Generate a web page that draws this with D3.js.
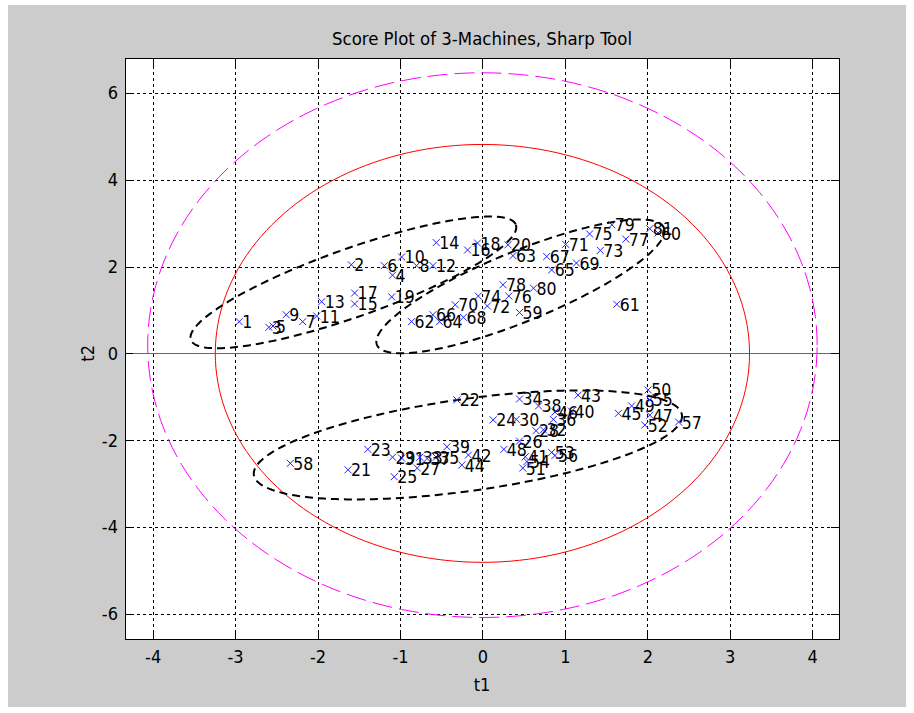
<!DOCTYPE html>
<html>
<head>
<meta charset="utf-8">
<script src="https://cdn.jsdelivr.net/npm/d3@7/dist/d3.min.js"></script>
<style>
  html, body { margin: 0; padding: 0; background: #ffffff; }
  text { font-family: "Liberation Sans Narrow", "Arial Narrow", "DejaVu Sans Condensed", sans-serif; }
</style>
</head>
<body>
<div id="chart"></div>
<script>
// point labels and scores (t1, t2)
const pointLabels = ["1","2","3","4","5","6","7","8","9","10","11","12","13","14","15","16","17","18","19","20",
  "21","22","23","24","25","26","27","28","29","30","31","32","33","34","35","36","37","38","39","40",
  "41","42","43","44","45","46","47","48","49","50","51","52","53","54","55","56","57","58","59","60",
  "61","62","63","64","65","66","67","68","69","70","71","72","73","74","75","76","77","78","79","80","81"];

const t1Values = [-2.95, -1.59, -2.59, -1.09, -2.54, -1.19, -2.18, -0.80, -2.38, -0.98,
  -2.01, -0.60, -1.95, -0.56, -1.55, -0.18, -1.55, -0.06, -1.10, 0.31,
  -1.63, -0.31, -1.39, 0.13, -1.07, 0.45, -0.79, 0.65, -1.09, 0.41,
  -0.98, 0.74, -0.76, 0.45, -0.56, 0.86, -0.67, 0.68, -0.43, 1.08,
  0.52, -0.17, 1.16, -0.25, 1.65, 0.88, 2.03, 0.26, 1.81, 2.01,
  0.49, 1.97, 0.84, 0.54, 2.03, 0.88, 2.38, -2.33, 0.45, 2.13,
  1.63, -0.86, 0.37, -0.52, 0.84, -0.60, 0.78, -0.23, 1.14, -0.33,
  1.01, 0.06, 1.43, -0.05, 1.30, 0.32, 1.74, 0.25, 1.57, 0.62, 2.03];

const t2Values = [0.73, 2.04, 0.60, 1.80, 0.63, 2.02, 0.73, 2.02, 0.89, 2.22,
  0.86, 2.02, 1.19, 2.55, 1.14, 2.38, 1.39, 2.54, 1.30, 2.50,
  -2.68, -1.07, -2.21, -1.53, -2.84, -2.02, -2.64, -1.78, -2.39, -1.52,
  -2.41, -1.76, -2.39, -1.05, -2.39, -1.52, -2.42, -1.21, -2.15, -1.33,
  -2.38, -2.34, -0.96, -2.57, -1.38, -1.35, -1.42, -2.21, -1.21, -0.84,
  -2.64, -1.65, -2.28, -2.49, -1.07, -2.35, -1.58, -2.53, 0.94, 2.77,
  1.13, 0.73, 2.25, 0.73, 1.92, 0.89, 2.23, 0.83, 2.08, 1.12,
  2.51, 1.09, 2.37, 1.32, 2.75, 1.32, 2.63, 1.58, 2.96, 1.50, 2.87];

// axis ticks
const xTicks = [-4, -3, -2, -1, 0, 1, 2, 3, 4];
const yTicks = [-6, -4, -2, 0, 2, 4, 6];
const xDomain = [-4.335, 4.325];
const yDomain = [-6.575, 6.80];

// cluster ellipses: centre, first half-axis, second half-axis (t1, t2 units)
const clusterCenters = [[-1.565, 1.635], [0.461, 1.543], [-0.176, -2.107]];
const clusterAxisA = [[1.971, 1.324], [1.740, 1.347], [2.596, 0.691]];
const clusterAxisB = [[0.138, -0.739], [0.160, -0.746], [0.078, -1.048]];

// confidence limits: centre and radii
const innerLimit = { cx: 0, cy: 0, rx: 3.24, ry: 4.81 };
const outerLimit = { cx: 0, cy: 0.19, rx: 4.06, ry: 6.27 };

const points = pointLabels.map((label, i) => ({ label, t1: t1Values[i], t2: t2Values[i] }));

const width = 914;
const height = 713;
const margin = { top: 58, right: 75, bottom: 74, left: 125 };
const innerWidth = width - margin.left - margin.right;
const innerHeight = height - margin.top - margin.bottom;
const fontStack = "\"Liberation Sans Narrow\", \"Arial Narrow\", \"DejaVu Sans Condensed\", sans-serif";

const svg = d3.select("#chart").append("svg")
  .attr("width", width)
  .attr("height", height);

// grey figure background
svg.append("rect")
  .attr("x", 8).attr("y", 5)
  .attr("width", 898).attr("height", 702)
  .attr("fill", "#cccccc");

const xScale = d3.scaleLinear().domain(xDomain).range([0, innerWidth]);
const yScale = d3.scaleLinear().domain(yDomain).range([innerHeight, 0]);

const g = svg.append("g")
  .attr("transform", `translate(${margin.left},${margin.top})`);

g.append("rect")
  .attr("width", innerWidth).attr("height", innerHeight)
  .attr("fill", "#ffffff");

g.append("clipPath").attr("id", "clip")
  .append("rect").attr("width", innerWidth).attr("height", innerHeight);

// dotted grid
g.append("g")
  .attr("class", "grid")
  .attr("transform", `translate(0,${innerHeight})`)
  .call(d3.axisBottom(xScale).tickValues(xTicks).tickSize(-innerHeight).tickFormat(""));
g.append("g")
  .attr("class", "grid")
  .call(d3.axisLeft(yScale).tickValues(yTicks).tickSize(-innerWidth).tickFormat(""));
g.selectAll(".grid .domain").remove();
g.selectAll(".grid line")
  .attr("stroke", "#000")
  .attr("stroke-width", 1)
  .attr("stroke-dasharray", "3,3")
  .attr("shape-rendering", "crispEdges");

const plot = g.append("g").attr("clip-path", "url(#clip)");

// zero line
plot.append("line")
  .attr("x1", 0).attr("x2", innerWidth)
  .attr("y1", yScale(0)).attr("y2", yScale(0))
  .attr("stroke", "#ff00ff")
  .attr("shape-rendering", "crispEdges");

const line = d3.line()
  .x((d) => xScale(d[0]))
  .y((d) => yScale(d[1]))
  .curve(d3.curveLinearClosed);

const angles = d3.range(0, 360, 2).map((a) => (a * Math.PI) / 180);

function ellipsePoints(c, a, b) {
  return angles.map((t) => [
    c[0] + Math.cos(t) * a[0] + Math.sin(t) * b[0],
    c[1] + Math.cos(t) * a[1] + Math.sin(t) * b[1]
  ]);
}

// outer (dashed magenta) and inner (red) limits
plot.append("path")
  .attr("d", line(ellipsePoints([outerLimit.cx, outerLimit.cy], [outerLimit.rx, 0], [0, outerLimit.ry])))
  .attr("fill", "none")
  .attr("stroke", "#ff00ff")
  .attr("stroke-dasharray", "20,7");

plot.append("path")
  .attr("d", line(ellipsePoints([innerLimit.cx, innerLimit.cy], [innerLimit.rx, 0], [0, innerLimit.ry])))
  .attr("fill", "none")
  .attr("stroke", "#ff0000");

// cluster ellipses
clusterCenters.forEach((c, i) => {
  plot.append("path")
    .attr("d", line(ellipsePoints(c, clusterAxisA[i], clusterAxisB[i])))
    .attr("fill", "none")
    .attr("stroke", "#000")
    .attr("stroke-width", 2)
    .attr("stroke-dasharray", "8,5");
});

// x markers
const marks = plot.selectAll(".mark").data(points).join("g")
  .attr("class", "mark")
  .attr("transform", (d) => `translate(${xScale(d.t1)},${yScale(d.t2)})`);

marks.append("path")
  .attr("d", "M-3.5,-3.5L3.5,3.5M-3.5,3.5L3.5,-3.5")
  .attr("stroke", "#2020ff")
  .attr("stroke-width", 1)
  .attr("fill", "none");

marks.append("text")
  .attr("x", 3)
  .attr("dy", "0.37em")
  .attr("font-size", 17.5)
  .attr("fill", "#000")
  .text((d) => d.label);

// ticks inside the box, on all four sides
const tickStyle = (sel) => {
  sel.select(".domain").remove();
  sel.selectAll("line").attr("stroke", "#000").attr("shape-rendering", "crispEdges");
  sel.selectAll("text").attr("font-size", 18).attr("fill", "#000").style("font-family", fontStack);
};

g.append("g")
  .attr("transform", `translate(0,${innerHeight})`)
  .call(d3.axisBottom(xScale).tickValues(xTicks).tickSizeInner(-8).tickSizeOuter(0).tickPadding(11).tickFormat((d) => String(d)))
  .call(tickStyle);
g.append("g")
  .call(d3.axisTop(xScale).tickValues(xTicks).tickSizeInner(-8).tickSizeOuter(0).tickFormat(""))
  .call(tickStyle);
g.append("g")
  .call(d3.axisLeft(yScale).tickValues(yTicks).tickSizeInner(-8).tickSizeOuter(0).tickPadding(7).tickFormat((d) => String(d)))
  .call(tickStyle);
g.append("g")
  .attr("transform", `translate(${innerWidth},0)`)
  .call(d3.axisRight(yScale).tickValues(yTicks).tickSizeInner(-8).tickSizeOuter(0).tickFormat(""))
  .call(tickStyle);

// axes box
g.append("rect")
  .attr("width", innerWidth).attr("height", innerHeight)
  .attr("fill", "none")
  .attr("stroke", "#000")
  .attr("shape-rendering", "crispEdges");

// title and axis labels
svg.append("text")
  .attr("x", margin.left + innerWidth / 2)
  .attr("y", 45)
  .attr("text-anchor", "middle")
  .attr("font-size", 18)
  .attr("textLength", 300)
  .attr("lengthAdjust", "spacingAndGlyphs")
  .text("Score Plot of 3-Machines, Sharp Tool");

svg.append("text")
  .attr("x", margin.left + innerWidth / 2)
  .attr("y", 691)
  .attr("text-anchor", "middle")
  .attr("font-size", 18)
  .text("t1");

svg.append("text")
  .attr("transform", `translate(94,${margin.top + yScale(0)}) rotate(-90)`)
  .attr("text-anchor", "middle")
  .attr("font-size", 18)
  .text("t2");
</script>
</body>
</html>
